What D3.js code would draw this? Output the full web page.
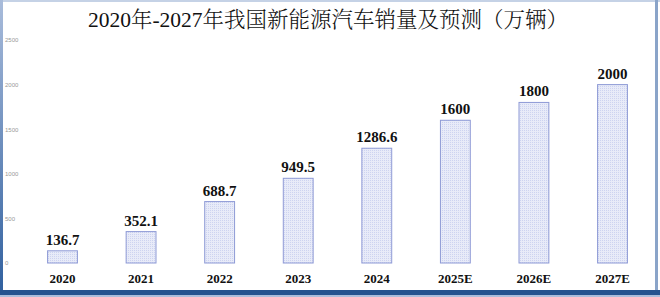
<!DOCTYPE html>
<html><head><meta charset="utf-8">
<script src="https://cdn.jsdelivr.net/npm/d3@7/dist/d3.min.js"></script>
<style>html,body{margin:0;padding:0;background:#fff;}svg{display:block;}</style>
</head><body>
<svg id="c" width="660" height="297"></svg>
<script>
const categories = ["2020","2021","2022","2023","2024","2025E","2026E","2027E"];
const values = [136.7, 352.1, 688.7, 949.5, 1286.6, 1600, 1800, 2000];
const valueLabels = ["136.7","352.1","688.7","949.5","1286.6","1600","1800","2000"];
const yTicks = [0, 500, 1000, 1500, 2000, 2500];
const title = "2020年-2027年我国新能源汽车销量及预测（万辆）";

const svg = d3.select("#c");
const W = 660, H = 297;
const defs = svg.append("defs");
const lg = defs.append("linearGradient").attr("id","lg").attr("x1",0).attr("y1",0).attr("x2",0).attr("y2",1);
lg.append("stop").attr("offset","0%").attr("stop-color","#a9bcdb");
lg.append("stop").attr("offset","100%").attr("stop-color","#2f5f9e");
const pat = defs.append("pattern").attr("id","dots").attr("width",2).attr("height",2).attr("patternUnits","userSpaceOnUse");
pat.append("rect").attr("width",2).attr("height",2).attr("fill","#e8ebf8");
pat.append("rect").attr("width",1).attr("height",1).attr("fill","#cdd3f0");

// frame
svg.append("rect").attr("x",0).attr("y",0).attr("width",W).attr("height",2).attr("fill","#c5d2e6");
svg.append("rect").attr("x",0).attr("y",0).attr("width",3).attr("height",H).attr("fill","url(#lg)");
svg.append("rect").attr("x",655).attr("y",0).attr("width",3).attr("height",H).attr("fill","#8aa4c9");
svg.append("rect").attr("x",0).attr("y",290).attr("width",W).attr("height",5).attr("fill","#24528f");
svg.append("rect").attr("x",0).attr("y",295).attr("width",W).attr("height",2).attr("fill","#a9bcdb");

const x = d3.scaleBand().domain(categories).range([24, 651]).paddingInner(0.62).paddingOuter(0.3);
const y = d3.scaleLinear().domain([0, 2500]).range([263, 40]);

// y axis labels
const ya = d3.axisLeft(y).tickValues(yTicks).tickFormat(d3.format("d")).tickSize(0).tickPadding(0);
const g = svg.append("g").attr("transform","translate(5,0)").call(ya);
g.select(".domain").remove();
g.selectAll("text").attr("text-anchor","start").attr("x",0).attr("dy","0.32em")
  .attr("font-family","Liberation Sans, Arial, sans-serif").attr("font-size",6).attr("fill","#999");

// bars
svg.append("g").selectAll("rect").data(values).join("rect")
  .attr("x",(d,i)=>x(categories[i])).attr("y",d=>y(d))
  .attr("width",x.bandwidth()).attr("height",d=>y(0)-y(d))
  .attr("fill","url(#dots)").attr("stroke","#8e9ad6").attr("stroke-width",1);

// value labels
svg.append("g").selectAll("text").data(values).join("text")
  .attr("x",(d,i)=>x(categories[i])+x.bandwidth()/2).attr("y",d=>y(d)-6)
  .attr("text-anchor","middle").attr("font-family","Liberation Serif, Times New Roman, serif")
  .attr("font-weight","bold").attr("font-size",15).attr("fill","#111")
  .text((d,i)=>valueLabels[i]);

// category labels
const xa = d3.axisBottom(x).tickSize(0).tickPadding(0);
const gx = svg.append("g").attr("transform","translate(0,278)").call(xa);
gx.select(".domain").remove();
gx.selectAll("text").attr("dy","0.35em").attr("y",0).attr("font-family","Liberation Serif, Times New Roman, serif")
  .attr("font-weight","bold").attr("font-size",13).attr("fill","#111");

// title
svg.append("text").attr("x",328).attr("y",27).attr("text-anchor","middle")
  .attr("font-family","Liberation Serif, Noto Serif CJK SC, Noto Sans CJK SC, serif")
  .attr("font-size",21.5).attr("font-weight",300).attr("fill","#111").text(title);
</script>
</body></html>
